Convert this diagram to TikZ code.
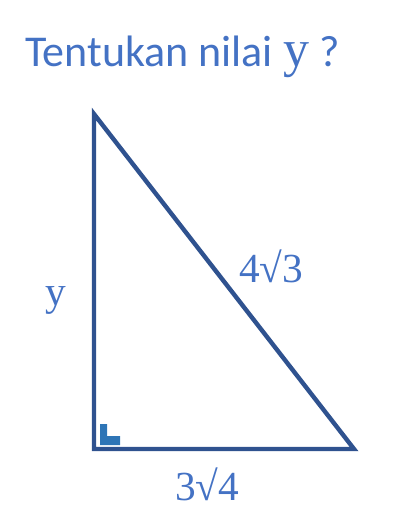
\documentclass[tikz,border=0pt]{standalone}
\usepackage{fontspec}
\setmainfont{Liberation Serif}
\newfontfamily\titlefont{Carlito}
\definecolor{lineBlue}{HTML}{2F528F}
\definecolor{textBlue}{HTML}{4472C4}
\definecolor{markBlue}{HTML}{2E75B6}
\usetikzlibrary{positioning}
\tikzset{
  side/.style={draw=lineBlue, line width=3.3pt},
  sidelabel/.style={text=textBlue, inner sep=0pt, font=\fontsize{31}{31}\selectfont},
  titlelabel/.style={text=textBlue, inner sep=0pt, font=\titlefont\fontsize{33}{33}\selectfont}
}
\begin{document}
\begin{tikzpicture}[x=0.75pt, y=-0.75pt]
  \useasboundingbox (0,0) rectangle (412,530);
  % title
  \node[titlelabel, anchor=base west] (title) at (25,67)
    {Tentukan nilai {\rmfamily\fontsize{39}{39}\selectfont y} ?};
  % corners of the triangle
  \coordinate (top) at (94,114);
  \coordinate (corner) at (94,449);
  \coordinate (right) at (354,449);
  \draw[side] (top) -- (corner) -- (right) -- cycle;
  % right angle mark
  \fill[markBlue] (100,424) -- (107,424) -- (107,436) -- (120,436)
    -- (120,445) -- (100,445) -- cycle;
  % side labels
  \node[sidelabel, anchor=base] (yval) at (56,305) {y};
  \node[sidelabel, anchor=base west] (hyp) at (239,282) {4√3};
  \node[sidelabel, anchor=base west] (base) at (175,500) {3√4};
\end{tikzpicture}
\end{document}
